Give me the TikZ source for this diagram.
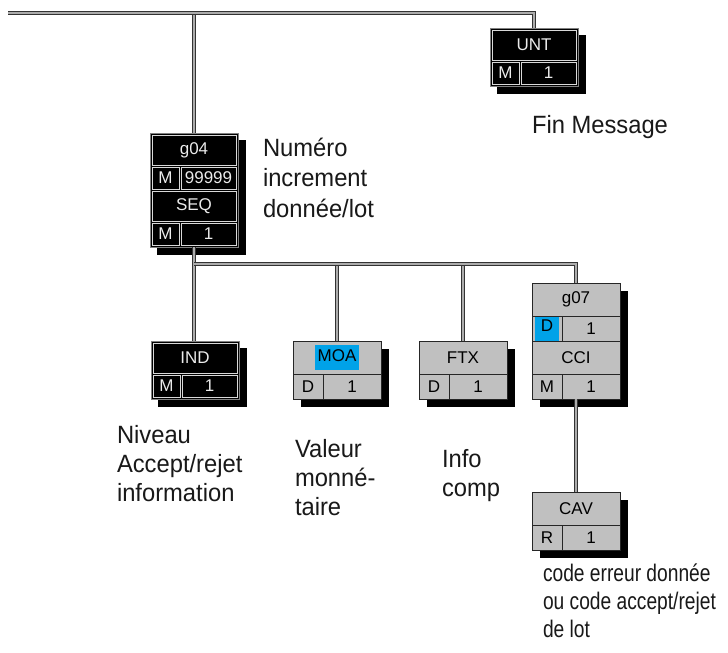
\documentclass[tikz,border=0pt]{standalone}
\usepackage{fontspec}
\setmainfont{Liberation Sans}
\newfontfamily\notefont{Liberation Sans}[FakeStretch=0.95]
\newfontfamily\narrowfont{Liberation Sans}[FakeStretch=0.8]
\usetikzlibrary{positioning, backgrounds}
\definecolor{boxgray}{RGB}{192,192,192}
\definecolor{hlblue}{RGB}{0,162,232}
\definecolor{edgegray}{RGB}{128,128,128}

\begin{document}
\begin{tikzpicture}[x=1pt, y=-1pt,
  every node/.style={inner sep=0pt, outer sep=0pt, font=\fontsize{17}{19}\selectfont},
  bhead/.style={draw=white!85!black, line width=0.8pt, fill=black, text=white!92!black, minimum width=84pt, minimum height=30pt},
  bcell/.style={bhead, minimum width=27pt, minimum height=22pt},
  bcnt/.style={bcell, minimum width=55pt},
  ghead/.style={draw=black!85, line width=0.9pt, fill=boxgray, text=black, minimum width=88pt, minimum height=33pt},
  gcell/.style={ghead, minimum width=30pt, minimum height=25pt},
  gcnt/.style={gcell, minimum width=58pt},
  frame/.style={fill=black, draw=edgegray, line width=0.8pt},
  conn/.style={draw=black!80, double=gray!65, double distance=2.2pt, line width=1.3pt},
  note/.style={align=left, anchor=north west, text=black!90, font=\notefont\fontsize{25}{29}\selectfont}
]
\useasboundingbox (0,0) rectangle (728,653);

% UNT
\node[bhead, anchor=north west] (unt) at (492,30) {UNT};
\node[bcell, below right=2pt and 0pt of unt.south west] (unt-m) {M};
\node[bcnt, right=2pt of unt-m] (unt-n) {1};

% g04 / SEQ
\node[bhead, anchor=north west] (g04) at (152,135) {g04};
\node[bcell, below right=2pt and 0pt of g04.south west] (g04-m) {M};
\node[bcnt, right=2pt of g04-m] (g04-n) {99999};
\node[bhead, below right=2pt and 0pt of g04-m.south west] (seq) {SEQ};
\node[bcell, below right=2pt and 0pt of seq.south west] (seq-m) {M};
\node[bcnt, right=2pt of seq-m] (seq-n) {1};

% IND
\node[bhead, anchor=north west] (ind) at (153,343) {IND};
\node[bcell, below right=2pt and 0pt of ind.south west] (ind-m) {M};
\node[bcnt, right=2pt of ind-m] (ind-n) {1};

% MOA
\node[ghead, anchor=north west] (moa) at (293,341) {\colorbox{hlblue}{\strut MOA}};
\node[gcell, below right=0pt and 0pt of moa.south west] (moa-d) {D};
\node[gcnt, right=0pt of moa-d] (moa-n) {1};

% FTX
\node[ghead, anchor=north west] (ftx) at (419,341) {FTX};
\node[gcell, below right=0pt and 0pt of ftx.south west] (ftx-d) {D};
\node[gcnt, right=0pt of ftx-d] (ftx-n) {1};

% g07 / CCI
\node[ghead, anchor=north west] (g07) at (532,283) {g07};
\node[gcell, below right=0pt and 0pt of g07.south west] (g07-d) {\colorbox{hlblue}{\makebox[18pt]{\rule[-6pt]{0pt}{18pt}D}}};
\node[gcnt, right=0pt of g07-d] (g07-n) {1};
\node[ghead, below right=0pt and 0pt of g07-d.south west] (cci) {CCI};
\node[gcell, below right=0pt and 0pt of cci.south west] (cci-m) {M};
\node[gcnt, right=0pt of cci-m] (cci-n) {1};

% CAV
\node[ghead, anchor=north west] (cav) at (532,492) {CAV};
\node[gcell, below right=0pt and 0pt of cav.south west] (cav-r) {R};
\node[gcnt, right=0pt of cav-r] (cav-n) {1};

% frames and shadows
\begin{scope}[on background layer]
\fill[white] (0,0) rectangle (728,653);
\foreach \a/\b in {unt/unt-n, g04/seq-n, ind/ind-n}{
  \fill ([shift={(5pt,-5pt)}]\a.north west) rectangle ([shift={(10pt,-10pt)}]\b.south east);
  \draw[frame] ([shift={(-2pt,2pt)}]\a.north west) rectangle ([shift={(2pt,-2pt)}]\b.south east);
}
\foreach \a/\b in {moa/moa-n, ftx/ftx-n, g07/cci-n, cav/cav-n}
  \fill ([shift={(8pt,-8pt)}]\a.north west) rectangle ([shift={(8pt,-8pt)}]\b.south east);
\end{scope}

% connectors
\coordinate (top) at (8,13);
\coordinate (bus) at (0,264);
\draw[conn, shorten >=2pt] (g04.north |- top) -- (g04.north);
\draw[conn, shorten >=2pt] (top) -| (unt.north);
\draw[conn, shorten <=2pt, shorten >=2pt] (g04.south |- seq-n.south) -- (g04.south |- ind.north);
\draw[conn] (moa.north |- bus) -- (moa.north);
\draw[conn] (ftx.north |- bus) -- (ftx.north);
\draw[conn] (g04.south |- bus) -| (g07.north);
\draw[conn] (cci.south |- cci-n.south) -- (cav.north);

% notes
\node[note] (fin) at (532,115) {Fin Message};
\node[note, font=\notefont\fontsize{25}{30.5}\selectfont] (numero) at (263,138) {Numéro\\increment\\donnée/lot};
\node[note] (niveau) at (117,425) {Niveau\\Accept/rejet\\information};
\node[note] (valeur) at (295,439) {Valeur\\monné-\\taire};
\node[note] (info) at (442,449) {Info\\comp};
\node[note, font=\narrowfont\fontsize{24}{28}\selectfont] (code) at (543,564) {code erreur donnée\\ou code accept/rejet\\de lot};
\end{tikzpicture}
\end{document}
